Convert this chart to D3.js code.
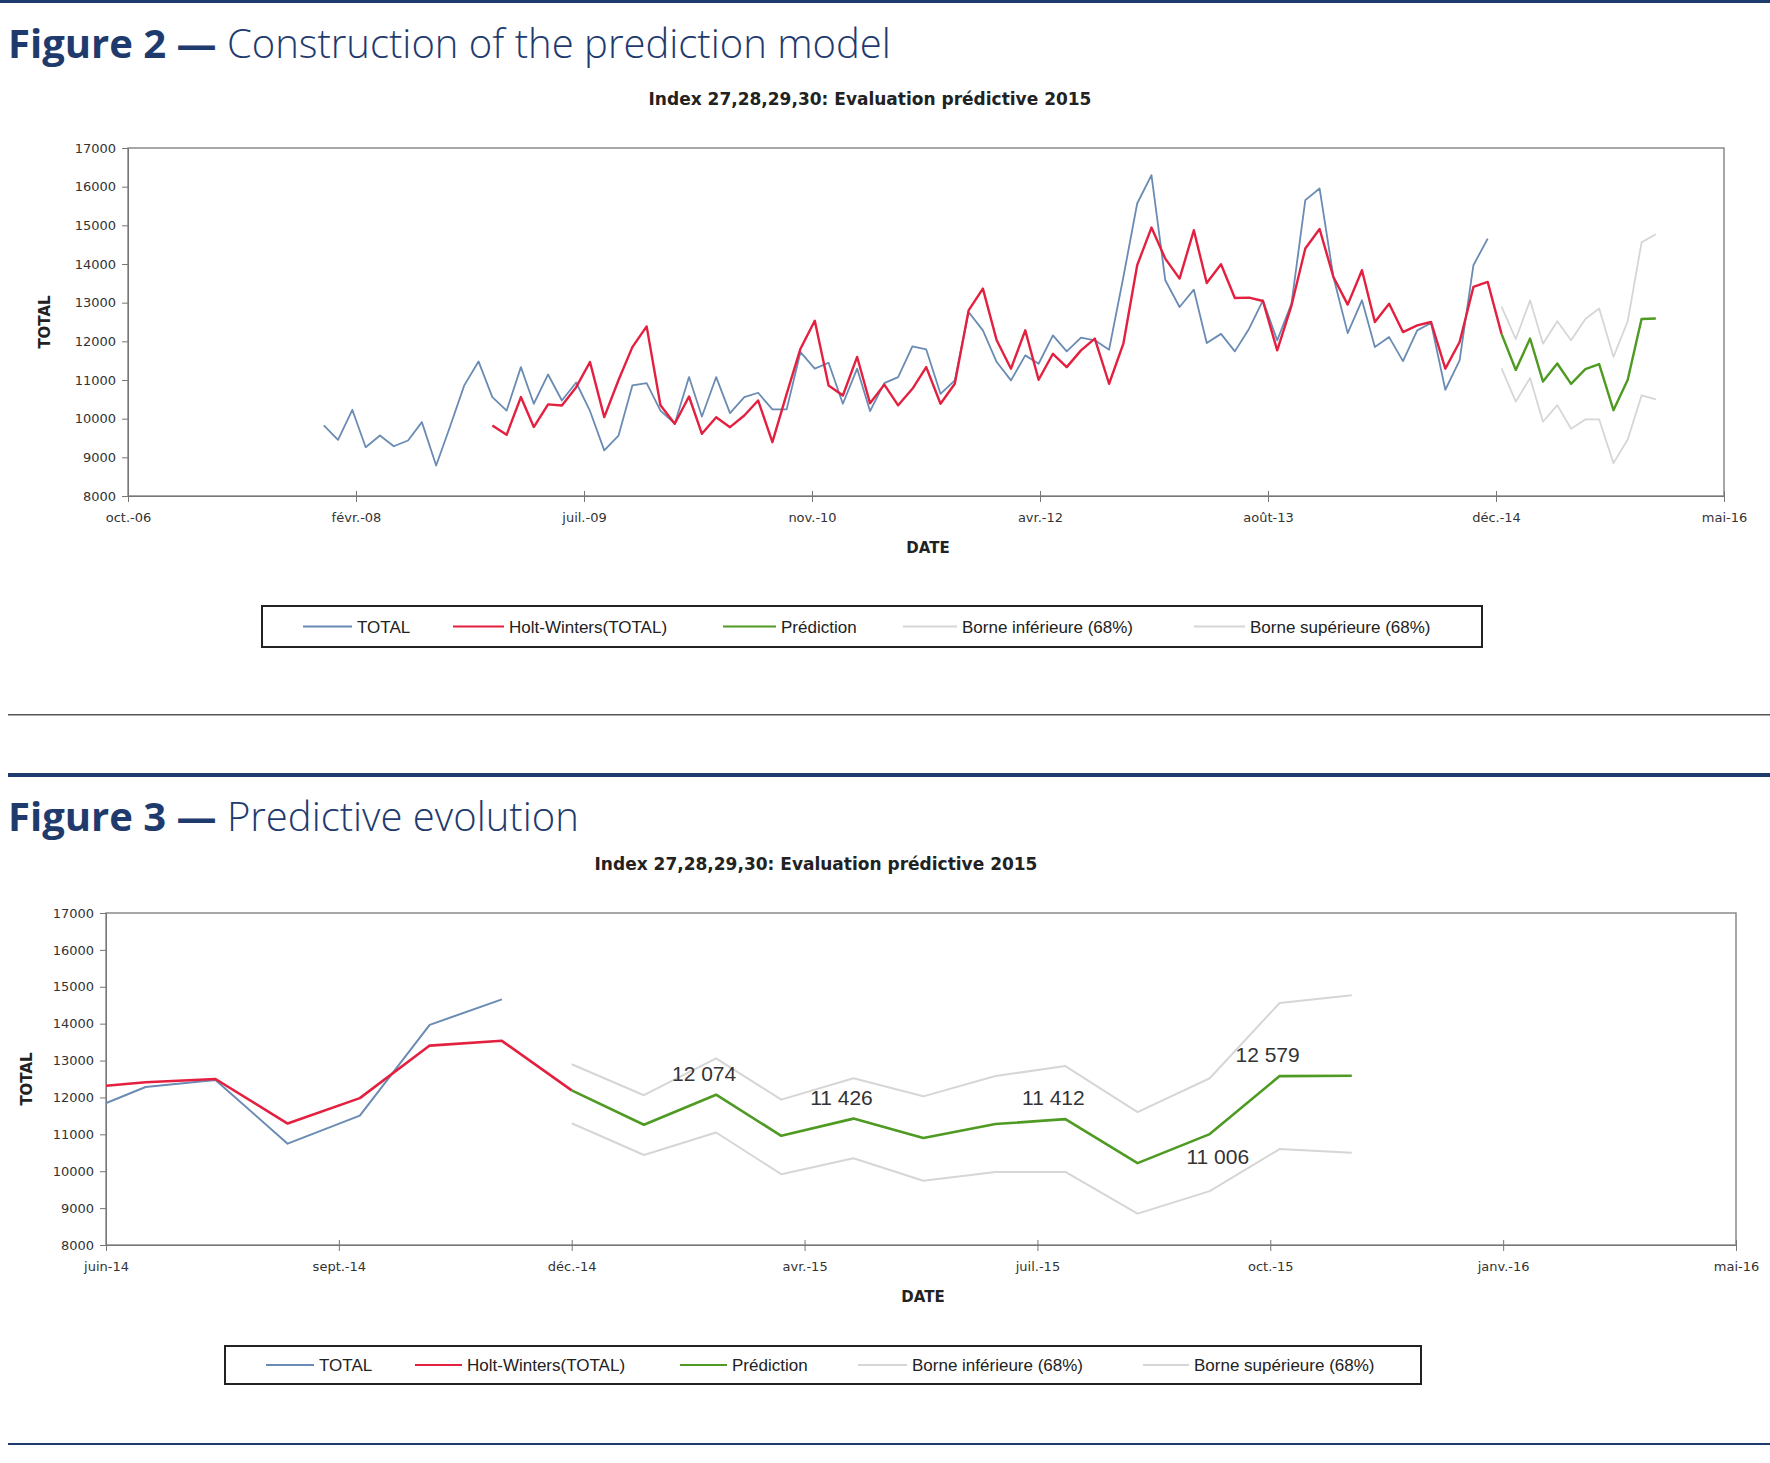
<!DOCTYPE html>
<html><head><meta charset="utf-8">
<script src="https://cdn.jsdelivr.net/npm/d3@7"></script>
<style>body{margin:0;background:#fff}svg{display:block}</style>
</head><body>
<svg id="c" width="1770" height="1463"></svg>
<script>
// ---------- DATA ----------
const totalStart = [2007, 11]; // Dec 2007 (month index 0-based)
const totalValues = [9825,9453,10230,9261,9564,9286,9436,9910,8787,9825,10860,11480,10558,10210,11333,10386,11143,10471,10935,10200,9181,9564,10860,10920,10210,9870,11076,10055,11076,10143,10558,10670,10240,10240,11722,11293,11447,10386,11293,10197,10920,11076,11870,11790,10643,10989,12757,12284,11465,10989,11637,11421,12155,11740,12096,12026,11784,13664,15564,16298,13579,12888,13336,11956,12193,11740,12327,13061,12026,12974,15652,15953,13664,12213,13061,11851,12110,11488,12284,12474,10748,11506,13968,14658];
const hwStart = [2008, 11]; // Dec 2008
const hwValues = [9825,9582,10558,9784,10370,10340,10815,11465,10040,11000,11851,12386,10345,9870,10573,9608,10038,9780,10082,10471,9392,10643,11810,12532,10860,10600,11596,10400,10880,10345,10772,11333,10386,10903,12801,13363,12026,11293,12284,11006,11678,11333,11766,12070,10903,11939,13968,14942,14140,13623,14873,13509,13993,13120,13130,13044,11766,12926,14401,14906,13664,12950,13839,12500,12974,12240,12413,12500,11293,11982,13406,13535,12193];
const predStart = [2014, 11]; // Dec 2014
const predValues = [12193,11260,12074,10960,11426,10900,11280,11412,10220,11006,12579,12590];
const lowerValues = [11300,10440,11050,9920,10350,9740,9980,9980,8850,9460,10600,10500];
const upperValues = [12900,12060,13060,11940,12520,12030,12580,12850,11600,12520,14560,14770];
const yTicks = [8000,9000,10000,11000,12000,13000,14000,15000,16000,17000];
const xLabels2 = ["oct.-06","févr.-08","juil.-09","nov.-10","avr.-12","août-13","déc.-14","mai-16"];
const xLabels3 = ["juin-14","sept.-14","déc.-14","avr.-15","juil.-15","oct.-15","janv.-16","mai-16"];
const annotated = [[2,"12 074"],[4,"11 426"],[7,"11 412"],[9,"11 006"],[10,"12 579"]];
const seriesNames = ["TOTAL","Holt-Winters(TOTAL)","Prédiction","Borne inférieure (68%)","Borne supérieure (68%)"];
const chartTitle = "Index 27,28,29,30: Evaluation prédictive 2015";

// ---------- HELPERS ----------
const mk = (s, vals) => vals.map((v,i)=>({d:new Date(s[0], s[1]+i, 1), v}));
const TOTAL = mk(totalStart,totalValues), HW = mk(hwStart,hwValues),
      PRED = mk(predStart,predValues), LOW = mk(predStart,lowerValues), UP = mk(predStart,upperValues);
const colors = ["#6a8bb3","#e3203f","#4e9a22","#d6d6d6","#d6d6d6"];
const DAY = 86400000;
const svg = d3.select("#c");
const tickFont = "DejaVu Sans";

svg.append("rect").attr("x",0).attr("y",0).attr("width",1770).attr("height",3).attr("fill","#1f3b6e");

function heading(y, num, text){
  const t = svg.append("text").attr("x",8).attr("y",y).attr("font-family","Open Sans, Noto Sans").attr("font-size",40).attr("fill","#1f3b6e");
  t.append("tspan").attr("font-weight","bold").text(num+" — ");
  t.append("tspan").attr("font-weight","300").text(text);
}

function chart(o){
  const g = svg.append("g");
  const x = d3.scaleTime().domain([o.start, new Date(+o.start + 7*o.step*DAY)]).range([o.x0,o.x1]);
  const y = d3.scaleLinear().domain([8000,17000]).range([o.y1,o.y0]);
  g.append("text").attr("x",(o.x0+o.x1)/2 + o.tdx).attr("y",o.y0-43).attr("text-anchor","middle")
    .attr("font-family",tickFont).attr("font-weight","bold").attr("font-size",17).attr("fill","#222").text(chartTitle);
  g.append("rect").attr("x",o.x0).attr("y",o.y0).attr("width",o.x1-o.x0).attr("height",o.y1-o.y0)
    .attr("fill","none").attr("stroke","#8a8a8a").attr("stroke-width",1.5);
  const ya = g.append("g").attr("transform",`translate(${o.x0},0)`)
    .call(d3.axisLeft(y).tickValues(yTicks).tickSize(6).tickFormat(d3.format("d")));
  ya.select(".domain").attr("stroke","#777");
  ya.selectAll("line").attr("stroke","#777");
  ya.selectAll("text").attr("font-family",tickFont).attr("font-size",13).attr("fill","#333").attr("x",-12);
  const tv = d3.range(8).map(i=>new Date(+o.start + i*o.step*DAY));
  const xa = g.append("g").attr("transform",`translate(0,${o.y1})`)
    .call(d3.axisBottom(x).tickValues(tv).tickSize(6).tickFormat((d,i)=>o.labels[i]));
  xa.selectAll(".tick line").attr("y1",-5).attr("stroke","#777");
  xa.select(".domain").attr("stroke","#777");
  xa.selectAll("text").attr("font-family",tickFont).attr("font-size",13).attr("fill","#333").attr("dy","1.3em");
  g.append("text").attr("transform",`translate(${o.ylx},${(o.y0+o.y1)/2}) rotate(-90)`).attr("text-anchor","middle")
    .attr("font-family",tickFont).attr("font-weight","bold").attr("font-size",15).attr("fill","#222").text("TOTAL");
  g.append("text").attr("x",(o.x0+o.x1)/2+2).attr("y",o.y1+57).attr("text-anchor","middle")
    .attr("font-family",tickFont).attr("font-weight","bold").attr("font-size",15).attr("fill","#222").text("DATE");
  const cid = "clip"+o.id;
  g.append("clipPath").attr("id",cid).append("rect").attr("x",o.x0).attr("y",o.y0).attr("width",o.x1-o.x0).attr("height",o.y1-o.y0);
  const line = d3.line().x(d=>x(d.d)).y(d=>y(d.v));
  const lg = g.append("g").attr("clip-path",`url(#${cid})`);
  [[LOW,3],[UP,4],[TOTAL,0],[HW,1],[PRED,2]].forEach(([data,ci])=>{
    lg.append("path").datum(data).attr("d",line).attr("fill","none").attr("stroke",colors[ci])
      .attr("stroke-width", ci===2||ci===1 ? o.lw+0.6 : o.lw).attr("stroke-linejoin","round");
  });
  if(o.annot){
    annotated.forEach(([i,t])=>{
      const below = i===9;
      g.append("text").attr("x",x(PRED[i].d)+(below?8:-12)).attr("y",y(PRED[i].v)+(below?30:-14)).attr("text-anchor","middle")
        .attr("font-family","Liberation Sans").attr("font-size",21).attr("fill","#333").text(t);
    });
  }
  // legend
  const L = o.leg;
  g.append("rect").attr("x",L.x0).attr("y",L.y0).attr("width",L.x1-L.x0).attr("height",L.y1-L.y0)
    .attr("fill","none").attr("stroke","#222").attr("stroke-width",2);
  const ly = (L.y0+L.y1)/2;
  L.items.forEach((it,i)=>{
    g.append("line").attr("x1",it[0]).attr("x2",it[1]).attr("y1",ly).attr("y2",ly).attr("stroke",colors[i]).attr("stroke-width",2);
    g.append("text").attr("x",it[1]+5).attr("y",ly+6).attr("font-family","Liberation Sans").attr("font-size",17).attr("fill","#222").text(seriesNames[i]);
  });
}

heading(58,"Figure 2","Construction of the prediction model");
chart({id:2,start:new Date(2006,9,2),step:495,x0:128,x1:1724,y0:148,y1:496,labels:xLabels2,ylx:50,tdx:-56,lw:1.8,annot:false,
  leg:{x0:262,x1:1482,y0:606,y1:647,items:[[303,352],[453,504],[723,776],[903,957],[1194,1245]]}});
svg.append("rect").attr("x",8).attr("y",714).attr("width",1762).attr("height",1.5).attr("fill","#555");
svg.append("rect").attr("x",8).attr("y",773).attr("width",1762).attr("height",4).attr("fill","#1f3b6e");
heading(831,"Figure 3","Predictive evolution");
chart({id:3,start:new Date(2014,4,15),step:100,x0:106,x1:1736,y0:913,y1:1245,labels:xLabels3,ylx:32,tdx:-105,lw:2,annot:true,
  leg:{x0:225,x1:1421,y0:1346,y1:1384,items:[[266,314],[415,462],[680,727],[858,907],[1143,1189]]}});
svg.append("rect").attr("x",8).attr("y",1443).attr("width",1762).attr("height",2).attr("fill","#1f3b6e");
</script>
</body></html>
